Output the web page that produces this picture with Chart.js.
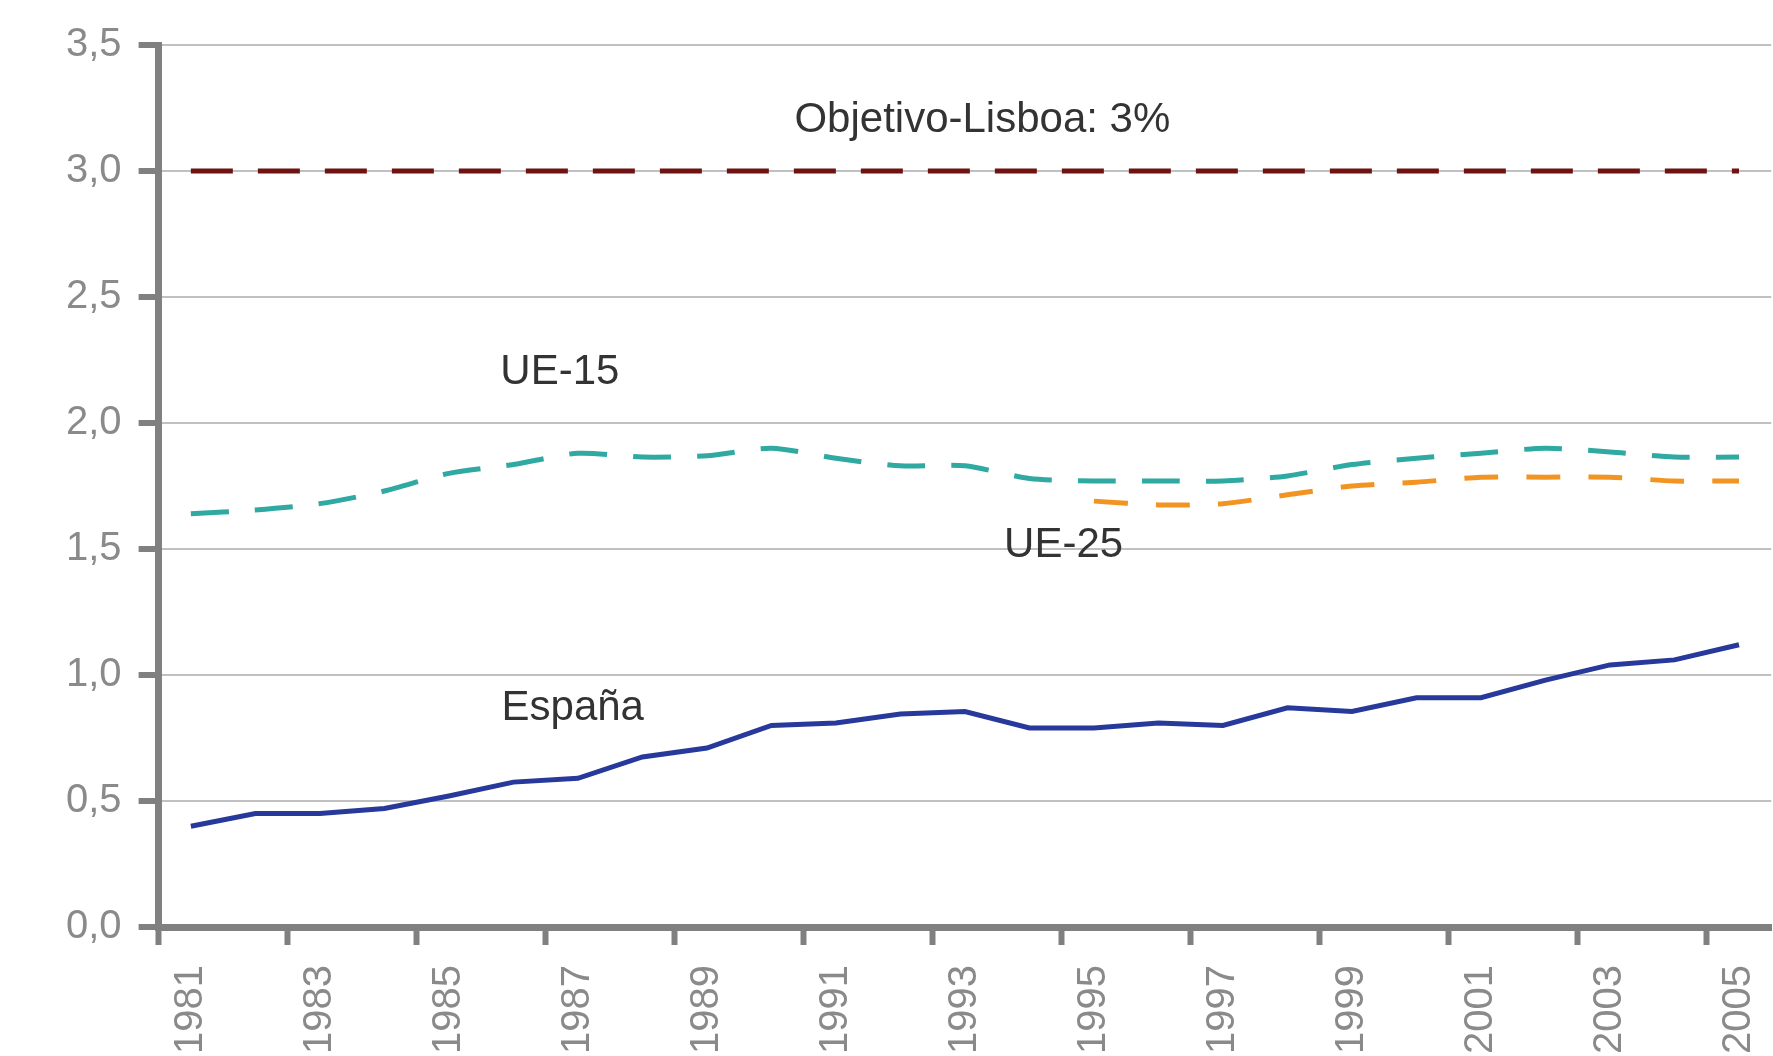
<!DOCTYPE html>
<html>
<head>
<meta charset="utf-8">
<script src="https://cdn.jsdelivr.net/npm/chart.js@4"></script>
<style>
  html, body { margin: 0; padding: 0; background: #fff; overflow: hidden; }
  #wrap { width: 1807px; height: 1056px; }
</style>
</head>
<body>
<div id="wrap"><canvas id="gastoChart"></canvas></div>
<script>
// años
const years = ['1981', '1982', '1983', '1984', '1985', '1986', '1987', '1988', '1989', '1990',
               '1991', '1992', '1993', '1994', '1995', '1996', '1997', '1998', '1999', '2000',
               '2001', '2002', '2003', '2004', '2005'];

// gasto en I+D (% del PIB)
const espana = [0.40, 0.45, 0.45, 0.47, 0.52, 0.575, 0.59, 0.675, 0.71, 0.80,
                0.81, 0.845, 0.855, 0.79, 0.79, 0.81, 0.80, 0.87, 0.855, 0.91,
                0.91, 0.98, 1.04, 1.06, 1.12];
const ue15 = [1.64, 1.655, 1.68, 1.73, 1.80, 1.835, 1.88, 1.865, 1.87, 1.90,
              1.86, 1.83, 1.83, 1.78, 1.77, 1.77, 1.77, 1.79, 1.835, 1.86,
              1.88, 1.90, 1.885, 1.865, 1.865];
const ue25 = [null, null, null, null, null, null, null, null, null, null,
              null, null, null, null, 1.69, 1.675, 1.68, 1.715, 1.75, 1.765,
              1.785, 1.785, 1.785, 1.77, 1.77];
const objetivoLisboa = [3, 3, 3, 3, 3, 3, 3, 3, 3, 3, 3, 3, 3, 3, 3, 3, 3, 3, 3, 3, 3, 3, 3, 3, 3];

const FONT = "'Liberation Sans', Arial, sans-serif";

// textos sobre el gráfico (x = índice de año, y = valor)
const notes = [
    { text: 'Objetivo-Lisboa: 3%', x: 12.27, y: 3.2 },
    { text: 'UE-15', x: 5.72, y: 2.2 },
    { text: 'UE-25', x: 13.53, y: 1.515 },
    { text: 'España', x: 5.92, y: 0.867 }
];

const notesPlugin = {
    id: 'notes',
    afterDatasetsDraw(chart) {
        const ctx = chart.ctx;
        const xs = chart.scales.x, ys = chart.scales.y;
        ctx.save();
        ctx.font = '42px ' + FONT;
        ctx.fillStyle = '#333';
        ctx.textAlign = 'center';
        ctx.textBaseline = 'middle';
        notes.forEach(n => {
            ctx.fillText(n.text, xs.getPixelForValue(n.x), ys.getPixelForValue(n.y));
        });
        ctx.restore();
    }
};

new Chart(document.getElementById('gastoChart').getContext('2d'), {
    type: 'line',
    data: {
        labels: years,
        datasets: [
            { label: 'Objetivo Lisboa', data: objetivoLisboa, borderColor: '#6e1212',
              borderWidth: 5, borderDash: [42, 25], pointRadius: 0 },
            { label: 'UE-15', data: ue15, borderColor: '#2fa9a1',
              borderWidth: 5, borderDash: [38, 26], pointRadius: 0, tension: 0.25 },
            { label: 'UE-25', data: ue25, borderColor: '#f29422',
              borderWidth: 5, borderDash: [34, 28], pointRadius: 0, tension: 0.25 },
            { label: 'España', data: espana, borderColor: '#27399a',
              borderWidth: 5, pointRadius: 0, tension: 0 }
        ]
    },
    options: {
        responsive: true,
        maintainAspectRatio: false,
        devicePixelRatio: 1,
        animation: false,
        layout: { padding: { left: 49, top: 45, right: 0, bottom: -18 } },
        plugins: {
            legend: { display: false },
            tooltip: { enabled: false }
        },
        scales: {
            x: {
                offset: true,
                border: { display: true, color: '#808080', width: 7 },
                grid: {
                    offset: true,
                    drawOnChartArea: false,
                    drawTicks: true,
                    tickLength: 18,
                    tickWidth: 6,
                    tickColor: c => (c.index !== undefined && c.index % 2 === 0) ? '#808080' : 'rgba(0,0,0,0)'
                },
                ticks: {
                    autoSkip: false,
                    maxRotation: 90,
                    minRotation: 90,
                    padding: 20,
                    color: '#8a8a8a',
                    font: { family: FONT, size: 40 },
                    callback: (v, i) => i % 2 === 0 ? years[i] : ''
                }
            },
            y: {
                min: 0,
                max: 3.5,
                border: { display: true, color: '#808080', width: 7 },
                grid: {
                    color: '#c0c0c0',
                    lineWidth: 2,
                    tickLength: 20,
                    tickWidth: 6,
                    tickColor: '#808080'
                },
                ticks: {
                    stepSize: 0.5,
                    padding: 17,
                    color: '#8a8a8a',
                    font: { family: FONT, size: 40 },
                    callback: v => v.toFixed(1).replace('.', ',')
                }
            }
        }
    },
    plugins: [notesPlugin]
});
</script>
</body>
</html>
